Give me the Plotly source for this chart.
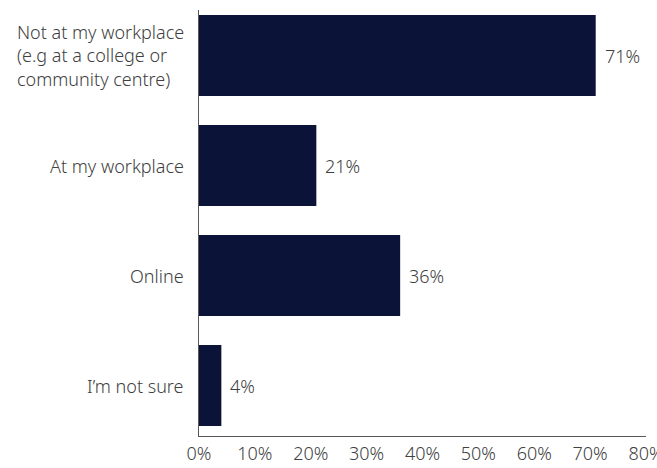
import plotly.graph_objects as go

categories = [
    "Not at my workplace<br>(e.g at a college or<br>community centre)",
    "At my workplace",
    "Online",
    "I\u2019m not sure",
]
values = [71, 21, 36, 4]
tick_values = [0, 10, 20, 30, 40, 50, 60, 70, 80]
tick_labels = ["0%", "10%", "20%", "30%", "40%", "50%", "60%", "70%", "80%"]

BAR = "#0b1338"
TEXT = "#404040"
FONT = "Noto Sans"
SIZE = 18
WEIGHT = 300

fig = go.Figure(
    go.Bar(
        x=values,
        y=list(range(len(categories))),
        orientation="h",
        marker=dict(color=BAR, line=dict(width=0)),
        hoverinfo="skip",
    )
)

# value labels to the right of each bar
for i, v in enumerate(values):
    fig.add_annotation(
        x=v, y=i, xref="x", yref="y",
        text=f"{v}%", showarrow=False,
        xanchor="left", xshift=7,
        font=dict(family=FONT, size=SIZE, color=TEXT, weight=WEIGHT),
    )

# category labels, left-aligned blocks sitting against the axis
for i, c in enumerate(categories):
    fig.add_annotation(
        x=0, y=i, xref="paper", yref="y",
        text=c, showarrow=False,
        xanchor="right", xshift=-13, align="left",
        font=dict(family=FONT, size=SIZE, color=TEXT, weight=WEIGHT),
    )

fig.update_layout(
    width=657, height=468,
    margin=dict(l=199, r=11, t=10, b=32, autoexpand=False),
    plot_bgcolor="white", paper_bgcolor="white",
    bargap=0.264,
    showlegend=False,
    font=dict(family=FONT, size=SIZE, color=TEXT),
)
fig.update_xaxes(
    range=[0, 80], automargin=False,
    tickvals=tick_values, ticktext=tick_labels,
    showgrid=False, zeroline=False,
    showline=True, linecolor="#595959", linewidth=1,
    ticks="", ticklabelstandoff=1, ticklabeloverflow="allow",
    tickfont=dict(family=FONT, size=SIZE, color=TEXT, weight=WEIGHT),
)
fig.update_yaxes(
    range=[3.459, -0.414], automargin=False,
    showticklabels=False, showgrid=False, zeroline=False,
    showline=True, linecolor="#595959", linewidth=1, ticks="",
)

fig.write_html("out.html")
